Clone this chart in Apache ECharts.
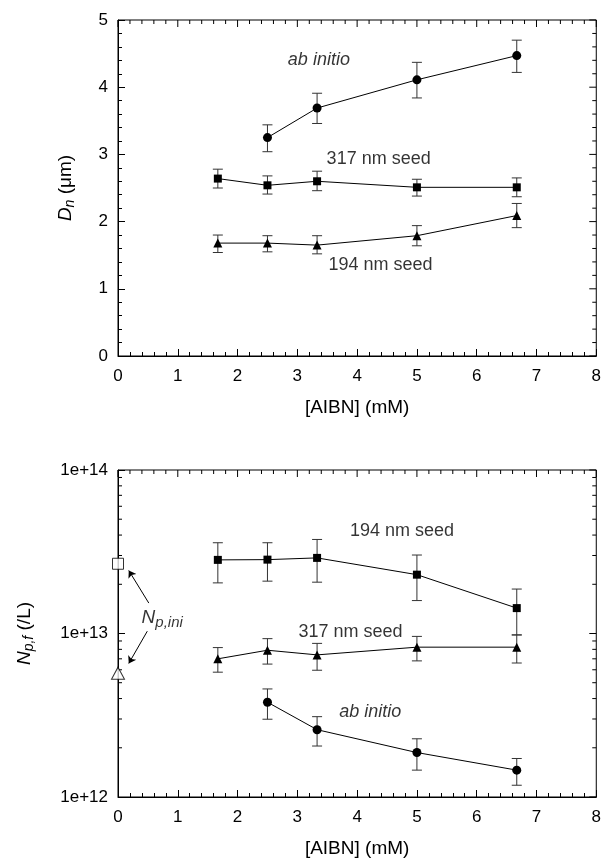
<!DOCTYPE html>
<html>
<head>
<meta charset="utf-8">
<script src="https://cdn.jsdelivr.net/npm/echarts@6/dist/echarts.min.js"></script>
<style>
html, body { margin: 0; padding: 0; background: #fff; }
#chart { width: 604px; height: 865px; }
</style>
</head>
<body>
<div id="chart"></div>
<script>
// [AIBN] concentrations (mM)
const aibn = [1.67, 2.5, 3.33, 5, 6.67];
const aibnAb = [2.5, 3.33, 5, 6.67];

// top panel: Dn (um)
const dnAb = [3.25, 3.69, 4.11, 4.47];
const dnAbLo = [3.04, 3.46, 3.84, 4.22];
const dnAbHi = [3.44, 3.91, 4.37, 4.70];
const dn317 = [2.64, 2.54, 2.60, 2.51, 2.51];
const dn317Lo = [2.50, 2.41, 2.46, 2.38, 2.37];
const dn317Hi = [2.78, 2.68, 2.75, 2.63, 2.65];
const dn194 = [1.68, 1.68, 1.65, 1.79, 2.09];
const dn194Lo = [1.54, 1.55, 1.52, 1.64, 1.91];
const dn194Hi = [1.80, 1.79, 1.79, 1.94, 2.27];

// bottom panel: Np,f (/L)
const np194 = [2.82e13, 2.83e13, 2.90e13, 2.29e13, 1.43e13];
const np194Lo = [2.04e13, 2.09e13, 2.06e13, 1.59e13, 0.98e13];
const np194Hi = [3.59e13, 3.59e13, 3.76e13, 3.02e13, 1.87e13];
const np317 = [7.0e12, 7.9e12, 7.4e12, 8.25e12, 8.25e12];
const np317Lo = [5.8e12, 6.5e12, 5.96e12, 6.8e12, 6.6e12];
const np317Hi = [8.2e12, 9.3e12, 8.7e12, 9.6e12, 9.8e12];
const npAb = [3.8e12, 2.58e12, 1.87e12, 1.46e12];
const npAbLo = [2.99e12, 2.05e12, 1.46e12, 1.18e12];
const npAbHi = [4.58e12, 3.10e12, 2.27e12, 1.72e12];
const npIni194 = 2.67e13;
const npIni317 = 5.72e12;

const xTicks = [0, 1, 2, 3, 4, 5, 6, 7, 8];
const dnTicks = [0, 1, 2, 3, 4, 5];
const npTicks = [1e12, 1e13, 1e14];

const FONT = 'Liberation Sans, Arial, sans-serif';

const zip = (xs, ys) => xs.map((x, i) => [x, ys[i]]);
const zip3 = (xs, lo, hi) => xs.map((x, i) => [x, lo[i], hi[i]]);

// mirrored ticks for the top and right edges: [x, y, length, side(0 top, 1 right)]
function linearTicks(ticks, sub) {
    const out = [];
    for (let i = 0; i < ticks.length; i++) {
        out.push([ticks[i], 7]);
        if (i < ticks.length - 1) {
            const step = (ticks[i + 1] - ticks[i]) / sub;
            for (let k = 1; k < sub; k++) out.push([ticks[i] + step * k, 4]);
        }
    }
    return out;
}
function logTicks(ticks) {
    const out = [];
    for (let i = 0; i < ticks.length; i++) {
        out.push([ticks[i], 7]);
        if (i < ticks.length - 1) {
            for (let k = 2; k <= 9; k++) out.push([ticks[i] * k, 4]);
        }
    }
    return out;
}
const topEdgeTicks = linearTicks(xTicks, 5).map(t => [t[0], 1, t[1], 0])
    .concat(linearTicks(dnTicks, 5).map(t => [1, t[0], t[1], 1]));
const botEdgeTicks = linearTicks(xTicks, 5).map(t => [t[0], 1e13, t[1], 0])
    .concat(logTicks(npTicks).map(t => [1, t[0], t[1], 1]))
    .concat(logTicks(npTicks).filter(t => t[1] === 4).map(t => [1, t[0], 4, 2]));

function edgeTickRender(params, api) {
    const p = api.coord([api.value(0), api.value(1)]);
    const len = api.value(2);
    const side = api.value(3);
    const cs = params.coordSys;
    let shape;
    if (side === 0) {
        shape = { x1: p[0], y1: cs.y, x2: p[0], y2: cs.y + len };
    } else if (side === 1) {
        shape = { x1: cs.x + cs.width - len, y1: p[1], x2: cs.x + cs.width, y2: p[1] };
    } else {
        shape = { x1: cs.x, y1: p[1], x2: cs.x + len, y2: p[1] };
    }
    return { type: 'line', shape: shape, style: { stroke: '#000', lineWidth: 1 } };
}

function errRender(params, api) {
    const x = api.value(0);
    const lo = api.coord([x, api.value(1)]);
    const hi = api.coord([x, api.value(2)]);
    const w = 5;
    const st = { stroke: '#333', lineWidth: 1 };
    return {
        type: 'group',
        children: [
            { type: 'line', shape: { x1: lo[0], y1: lo[1], x2: hi[0], y2: hi[1] }, style: st },
            { type: 'line', shape: { x1: lo[0] - w, y1: lo[1], x2: lo[0] + w, y2: lo[1] }, style: st },
            { type: 'line', shape: { x1: hi[0] - w, y1: hi[1], x2: hi[0] + w, y2: hi[1] }, style: st }
        ]
    };
}

function errSeries(data) {
    return {
        type: 'custom', renderItem: errRender, data: data, clip: false, z: 1,
        encode: { x: 0, y: [1, 2] }, silent: true
    };
}

function lineSeries(data, symbol, size) {
    return {
        type: 'line', data: data,
        symbol: symbol, symbolSize: size, showSymbol: true,
        lineStyle: { color: '#000', width: 1 },
        itemStyle: { color: '#000' }, z: 3, silent: true
    };
}

function textSeries(items) {
    return {
        type: 'scatter', symbolSize: 0,
        data: items.map(t => ({ value: t.pos, label: t.label })),
        label: {
            show: true, position: 'inside', color: '#000',
            fontFamily: FONT, fontSize: 18
        },
        silent: true, z: 4
    };
}

function edgeSeries(data) {
    return {
        type: 'custom', renderItem: edgeTickRender, data: data, silent: true, clip: false,
        encode: { x: 0, y: 1 }, z: 2
    };
}

const axisLineStyle = { show: true, onZero: false, lineStyle: { color: '#000', width: 1 } };
const majorTick = { show: true, inside: true, length: 7, lineStyle: { color: '#000' } };
const minorTick = { show: true, splitNumber: 5, length: 4, lineStyle: { color: '#000' } };

function xAxisFor(gi) {
    return {
        gridIndex: gi, type: 'value', min: 0, max: 8, interval: 1, position: 'bottom',
        axisLine: axisLineStyle, axisTick: majorTick, minorTick: minorTick,
        splitLine: { show: false },
        name: '[AIBN] (mM)', nameLocation: 'middle', nameGap: 42,
        nameTextStyle: { fontFamily: FONT, fontSize: 19, color: '#000' },
        axisLabel: { show: true, margin: 12, fontFamily: FONT, fontSize: 17, color: '#000' }
    };
}

function nameRich() {
    return {
        fontFamily: FONT, fontSize: 19, color: '#000',
        rich: {
            i: { fontFamily: FONT, fontSize: 19, fontStyle: 'italic', color: '#000' },
            s: { fontFamily: FONT, fontSize: 14, fontStyle: 'italic', color: '#000', padding: [9, 0, 0, 0] },
            t: { fontFamily: FONT, fontSize: 19, color: '#000' }
        }
    };
}

const option = {
    animation: false,
    backgroundColor: '#fff',
    grid: [
        { left: 118, right: 6, top: 20, height: 336, show: true, borderColor: '#000', borderWidth: 1, backgroundColor: 'transparent' },
        { left: 118, right: 6, top: 470, height: 327, show: true, borderColor: '#000', borderWidth: 1, backgroundColor: 'transparent' }
    ],
    xAxis: [xAxisFor(0), xAxisFor(1)],
    yAxis: [
        {
            gridIndex: 0, type: 'value', min: 0, max: 5, interval: 1, position: 'left',
            axisLine: axisLineStyle, axisTick: majorTick, minorTick: minorTick,
            splitLine: { show: false },
            axisLabel: { margin: 10, fontFamily: FONT, fontSize: 17, color: '#000' },
            name: '{i|D}{s|n}{t| (μm)}', nameLocation: 'middle', nameGap: 41, nameRotate: 90,
            nameTextStyle: nameRich()
        },
        {
            gridIndex: 1, type: 'log', logBase: 10, min: 1e12, max: 1e14, position: 'left',
            axisLine: axisLineStyle, axisTick: majorTick,
            splitLine: { show: false },
            axisLabel: {
                margin: 10, fontFamily: FONT, fontSize: 17, color: '#000',
                formatter: v => '1e+' + Math.round(Math.log10(v))
            },
            name: '{i|N}{s|p,f}{t| (/L)}', nameLocation: 'middle', nameGap: 82, nameRotate: 90,
            nameTextStyle: nameRich()
        }
    ],
    series: []
};

function on(series, gi) { series.xAxisIndex = gi; series.yAxisIndex = gi; return series; }

option.series = [
    // top panel
    on(edgeSeries(topEdgeTicks), 0),
    on(errSeries(zip3(aibnAb, dnAbLo, dnAbHi)), 0),
    on(errSeries(zip3(aibn, dn317Lo, dn317Hi)), 0),
    on(errSeries(zip3(aibn, dn194Lo, dn194Hi)), 0),
    on(lineSeries(zip(aibnAb, dnAb), 'circle', 9), 0),
    on(lineSeries(zip(aibn, dn317), 'rect', 8), 0),
    on(lineSeries(zip(aibn, dn194), 'triangle', 9), 0),
    on(textSeries([
        { pos: [3.36, 4.40], label: { formatter: 'ab initio', fontStyle: 'italic' } },
        { pos: [4.36, 2.93], label: { formatter: '317 nm seed' } },
        { pos: [4.39, 1.36], label: { formatter: '194 nm seed' } }
    ]), 0),

    // bottom panel
    on(edgeSeries(botEdgeTicks), 1),
    on(errSeries(zip3(aibn, np194Lo, np194Hi)), 1),
    on(errSeries(zip3(aibn, np317Lo, np317Hi)), 1),
    on(errSeries(zip3(aibnAb, npAbLo, npAbHi)), 1),
    on(lineSeries(zip(aibn, np194), 'rect', 8), 1),
    on(lineSeries(zip(aibn, np317), 'triangle', 9), 1),
    on(lineSeries(zip(aibnAb, npAb), 'circle', 9), 1),
    on({
        type: 'scatter', clip: false, silent: true, z: 5,
        data: [
            { value: [0, npIni194], symbol: 'rect', symbolSize: 11 },
            { value: [0, npIni317], symbol: 'triangle', symbolSize: [13, 12] }
        ],
        itemStyle: { color: '#fff', borderColor: '#000', borderWidth: 1 }
    }, 1),
    on({
        type: 'lines', coordinateSystem: 'cartesian2d', silent: true, z: 4,
        symbol: ['none', 'arrow'], symbolSize: 7,
        lineStyle: { color: '#000', width: 1, opacity: 1 },
        data: [
            { coords: [[0.515, 1.535e13], [0.18, 2.43e13]] },
            { coords: [[0.49, 1.033e13], [0.18, 6.56e12]] }
        ]
    }, 1),
    on(textSeries([
        { pos: [4.75, 4.22e13], label: { formatter: '194 nm seed' } },
        { pos: [3.89, 1.015e13], label: { formatter: '317 nm seed' } },
        { pos: [4.22, 3.3e12], label: { formatter: 'ab initio', fontStyle: 'italic' } },
        {
            pos: [0.74, 1.25e13],
            label: {
                formatter: '{n|N}{p|p,ini}',
                rich: {
                    n: { fontFamily: FONT, fontSize: 19, fontStyle: 'italic', color: '#000' },
                    p: { fontFamily: FONT, fontSize: 15, fontStyle: 'italic', color: '#000', padding: [10, 0, 0, 0] }
                }
            }
        }
    ]), 1)
];

const chart = echarts.init(document.getElementById('chart'), null, { renderer: 'canvas' });
chart.setOption(option);
window.addEventListener('resize', function () { chart.resize(); });
</script>
</body>
</html>
